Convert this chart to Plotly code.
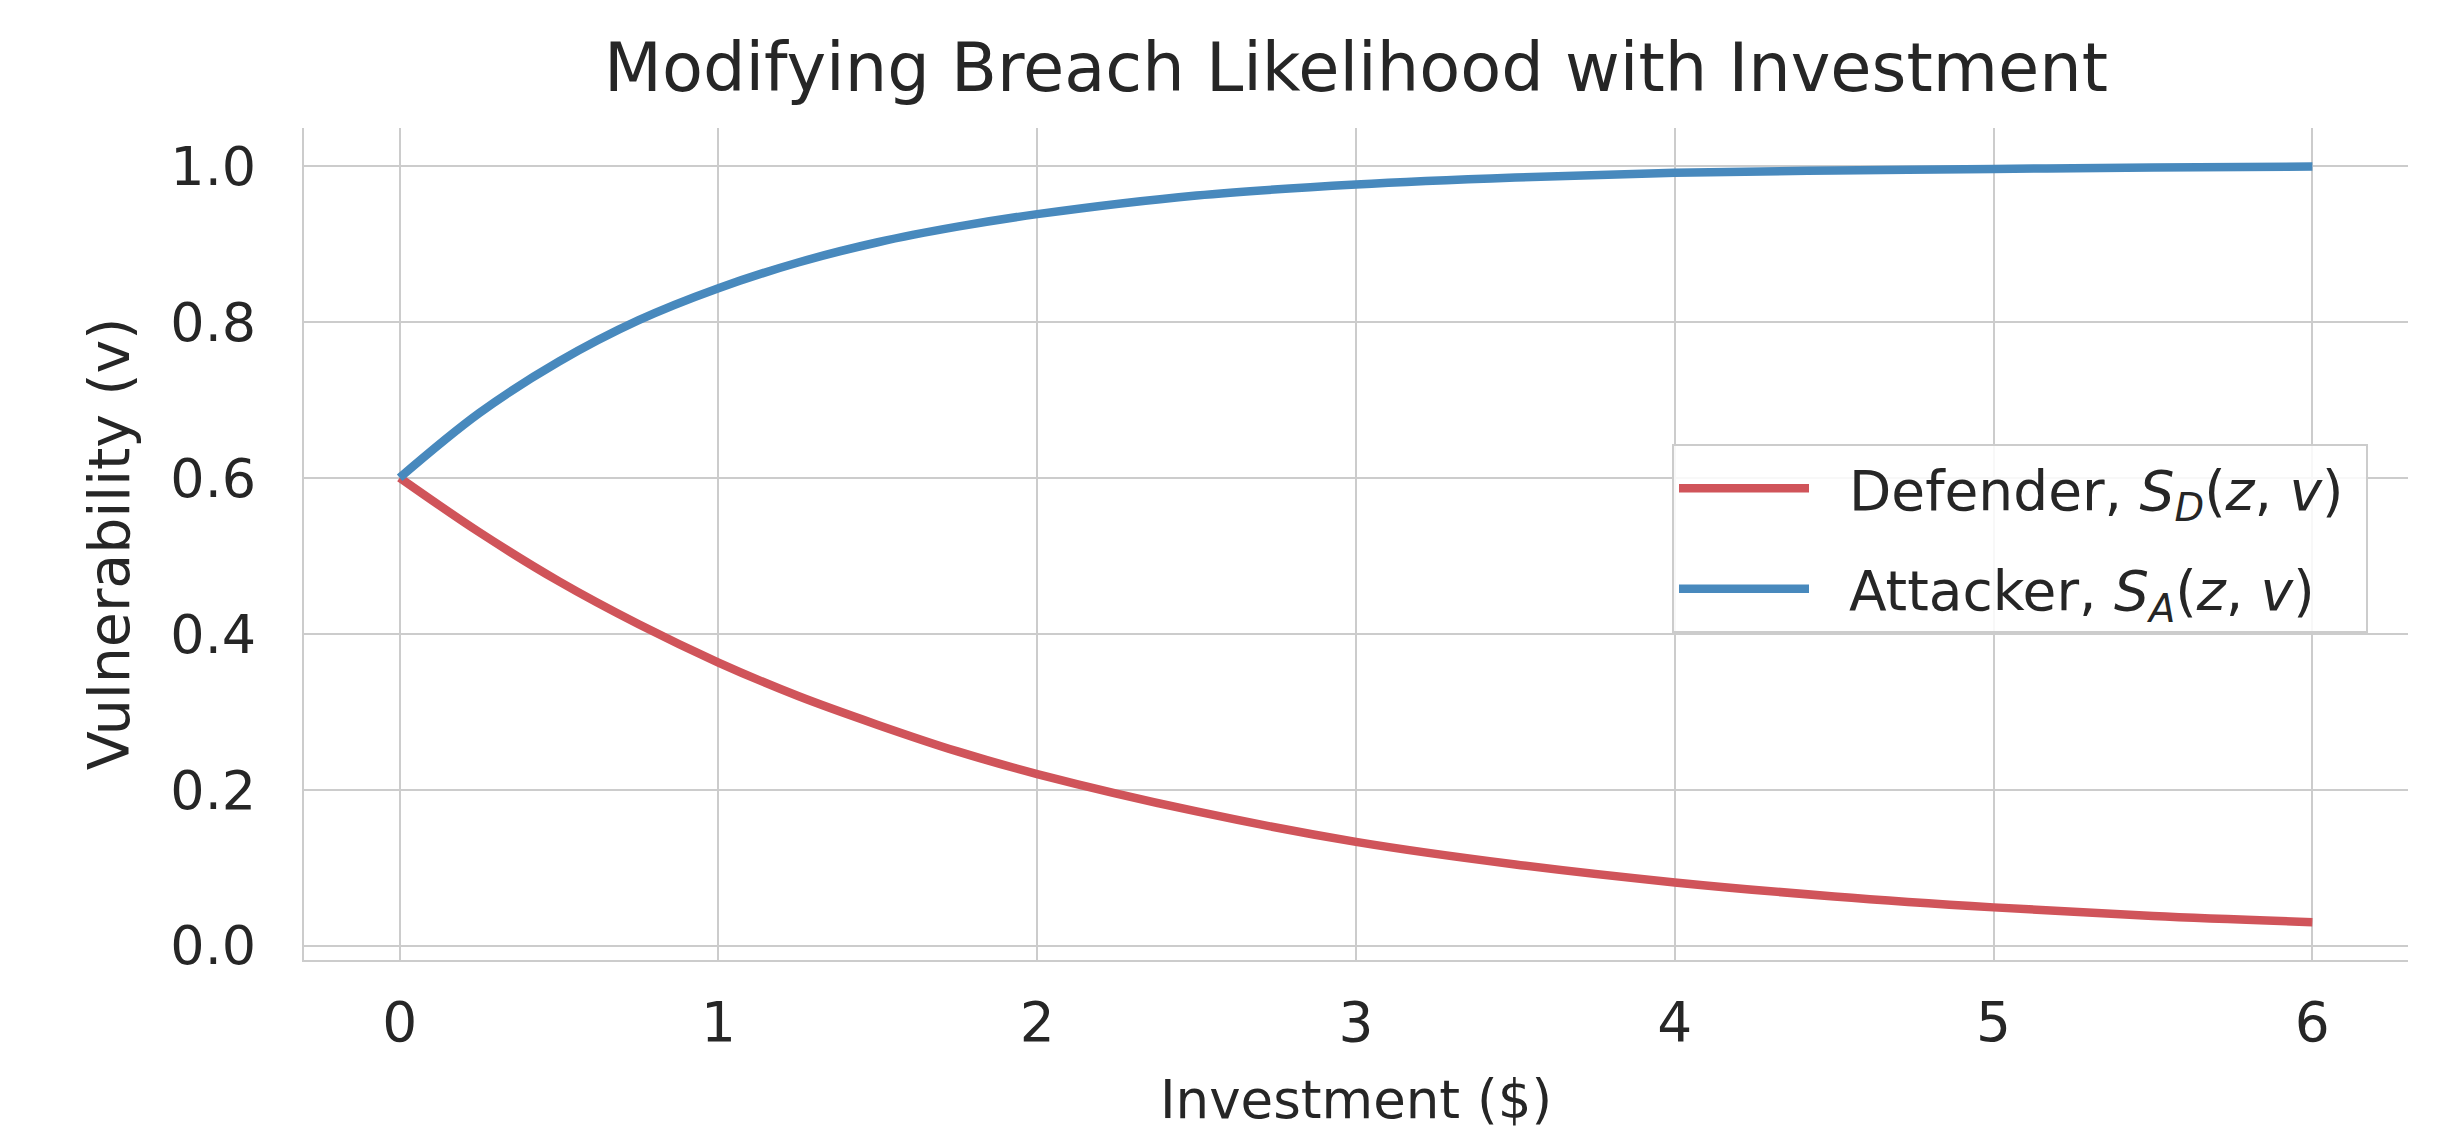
import plotly.graph_objects as go

# ---- data ----
investment = [0, 0.25, 0.5, 0.75, 1, 1.25, 1.5, 1.75, 2, 2.5, 3, 3.5, 4, 4.5, 5, 5.5, 6]
defender = [0.600, 0.530, 0.467, 0.412, 0.363, 0.320, 0.283, 0.249, 0.220, 0.172,
            0.133, 0.104, 0.081, 0.063, 0.049, 0.038, 0.030]
attacker = [0.600, 0.683, 0.749, 0.802, 0.843, 0.876, 0.902, 0.922, 0.938, 0.962,
            0.976, 0.985, 0.991, 0.994, 0.996, 0.998, 0.999]
x_ticks = [0, 1, 2, 3, 4, 5, 6]
y_ticks = [0.0, 0.2, 0.4, 0.6, 0.8, 1.0]

title_text = "Modifying Breach Likelihood with Investment"
x_title = "Investment ($)"
y_title = "Vulnerability (v)"
PAD = "\u00a0\u00a0"
def_name = PAD + "Defender, <i>S</i><sub><i>D</i></sub>(<i>z</i>, <i>v</i>)\u00a0"
att_name = PAD + "Attacker, <i>S</i><sub><i>A</i></sub>(<i>z</i>, <i>v</i>)\u00a0"

RED = "#d0545a"
BLUE = "#4889bd"
TXT = "#262626"
GRID = "#cccccc"
FONT = "DejaVu Sans"

W, H = 2444, 1131
L, R, T, B = 296, 44, 120, 179

fig = go.Figure()
fig.add_trace(go.Scatter(x=investment, y=defender, mode="lines", name=def_name,
                         line=dict(color=RED, width=8.5, shape="spline", smoothing=1.0),
                         legendgroup="d"))
fig.add_trace(go.Scatter(x=investment, y=attacker, mode="lines", name=att_name,
                         line=dict(color=BLUE, width=8.5, shape="spline", smoothing=1.0),
                         legendgroup="a"))

fig.update_layout(
    width=W, height=H,
    margin=dict(l=L, r=R, t=T, b=B, pad=0, autoexpand=False),
    paper_bgcolor="white", plot_bgcolor="white",
    font=dict(family=FONT, color=TXT, size=50),
    title=dict(text=title_text, x=(L + (W - R)) / 2 / W, xanchor="center",
               y=1 - 60 / H, yanchor="middle", yref="container", automargin=False,
               font=dict(size=67, color=TXT, family=FONT)),
    xaxis=dict(range=[-0.3, 6.3], tickvals=x_ticks, ticktext=[str(v) for v in x_ticks],
               showgrid=True, gridcolor=GRID, gridwidth=2, zeroline=False,
               showline=True, linecolor=GRID, linewidth=2, mirror=False,
               ticks="", ticklabelstandoff=13, automargin=False,
               tickfont=dict(size=55, color=TXT, family=FONT),
               title=dict(text=x_title, standoff=28, font=dict(size=53, color=TXT, family=FONT))),
    yaxis=dict(range=[-0.0185, 1.0485], tickvals=y_ticks, tickformat=".1f",
               showgrid=True, gridcolor=GRID, gridwidth=2, zeroline=False,
               showline=True, linecolor=GRID, linewidth=2, mirror=False,
               ticks="", ticklabelstandoff=35, automargin=False,
               tickfont=dict(size=54, color=TXT, family=FONT),
               title=dict(text=y_title, standoff=22, font=dict(size=57, color=TXT, family=FONT))),
    showlegend=True,
    legend=dict(x=(1664 - L) / (W - L - R), y=1 - (436 - T) / (H - T - B),
                xanchor="left", yanchor="top",
                bgcolor="rgba(255,255,255,0.85)", bordercolor=GRID, borderwidth=2,
                font=dict(size=55, color=TXT, family=FONT),
                itemwidth=130, tracegroupgap=26, traceorder="grouped"),
)

fig.write_html("out.html")
